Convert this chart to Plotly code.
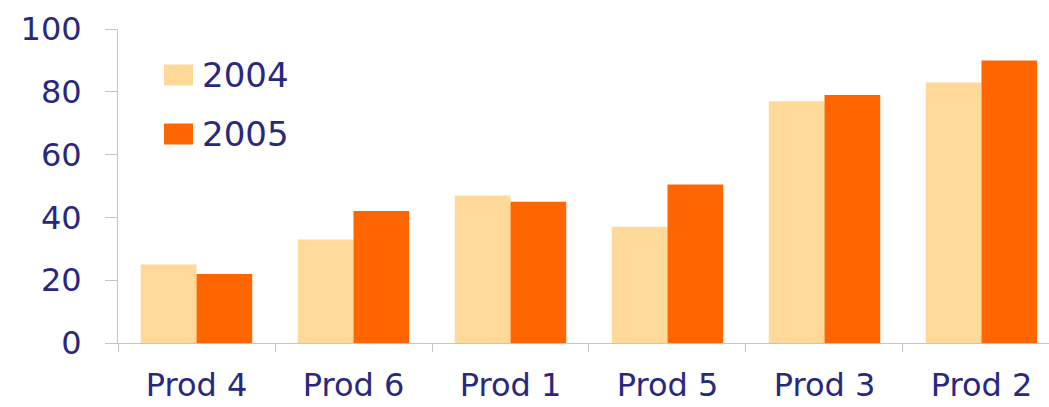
import plotly.graph_objects as go

categories = ["Prod 4", "Prod 6", "Prod 1", "Prod 5", "Prod 3", "Prod 2"]
series_names = ["2004", "2005"]
values_2004 = [25, 33, 47, 37, 77, 83]
values_2005 = [22, 42, 45, 50.5, 79, 90]
colors = ["#FFD999", "#FF6600"]
y_ticks = [0, 20, 40, 60, 80, 100]

text_color = "#29287E"
axis_color = "#C4C4CC"
font_family = "DejaVu Sans, Arial, sans-serif"

fig = go.Figure()
for name, vals, col in zip(series_names, [values_2004, values_2005], colors):
    fig.add_trace(go.Bar(x=categories, y=vals, name=name, marker=dict(color=col, line=dict(width=0)),
                         showlegend=False))

W, H = 1049, 407
ml, mr, mt, mb = 118, 0, 29, 64
pw, ph = W - ml - mr, H - mt - mb

def px(x):
    return (x - ml) / pw

def py(y):
    return (H - mb - y) / ph

# manual legend (larger swatches, as in the reference)
legend_rows = [75, 134]
for name, col, yc in zip(series_names, colors, legend_rows):
    fig.add_shape(type="rect", xref="paper", yref="paper",
                  x0=px(164), x1=px(193), y0=py(yc - 10.5), y1=py(yc + 10.5),
                  fillcolor=col, line=dict(width=0))
    fig.add_annotation(xref="paper", yref="paper", x=px(200), y=py(yc), text=name,
                       showarrow=False, xanchor="left", yanchor="middle",
                       font=dict(family=font_family, size=34, color=text_color))

fig.update_layout(
    width=W, height=H,
    margin=dict(l=ml, r=mr, t=mt, b=mb, autoexpand=False),
    plot_bgcolor="white", paper_bgcolor="white",
    barmode="group", bargap=0.29, bargroupgap=0,
    showlegend=False,
    font=dict(family=font_family, color=text_color),
)
fig.update_xaxes(
    type="category", range=[-0.5, 5.43], automargin=False,
    showline=True, linecolor=axis_color, linewidth=1,
    ticks="outside", tickson="boundaries", ticklen=8, tickcolor=axis_color,
    showgrid=False, zeroline=False,
    tickfont=dict(family=font_family, size=32, color=text_color),
    ticklabelstandoff=14,
)
fig.update_yaxes(
    range=[0, 100], tickvals=y_ticks, automargin=False,
    showline=True, linecolor=axis_color, linewidth=1,
    ticks="outside", ticklen=12, tickcolor=axis_color,
    showgrid=False, zeroline=False,
    tickfont=dict(family=font_family, size=32, color=text_color),
    ticklabelstandoff=17,
)

fig.write_html("out.html", config={"displayModeBar": False},
               post_script="document.body.style.margin='0';document.body.style.overflow='hidden';")
